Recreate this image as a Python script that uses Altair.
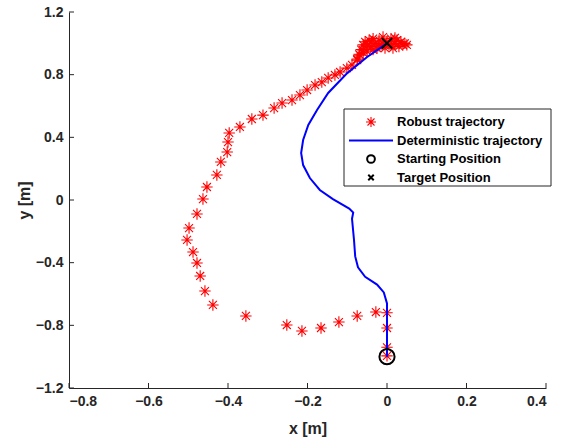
import altair as alt
import pandas as pd

# ---------------- data ----------------
robust_x = [0.0, 0.0, 0.0, 0.0, -0.028, -0.075, -0.121, -0.166, -0.214, -0.252,
            -0.355, -0.438, -0.458, -0.470, -0.478, -0.488, -0.503, -0.498, -0.478, -0.463,
            -0.453, -0.428, -0.418, -0.402, -0.400, -0.397, -0.370, -0.340, -0.312, -0.284,
            -0.264, -0.239, -0.219, -0.201, -0.181, -0.164, -0.148, -0.131, -0.118, -0.101,
            -0.088, -0.075, -0.068, -0.060, -0.050,
            -0.075, -0.070, -0.065, -0.060, -0.055, -0.050, -0.045, -0.040, -0.035, -0.030,
            -0.025, -0.020, -0.015, -0.010, -0.005, 0.000, 0.005, 0.010, 0.015, 0.020,
            0.025, 0.030, 0.035, 0.040, 0.045, 0.050, -0.050, -0.035, -0.010, 0.010,
            -0.060, -0.040, 0.020, -0.020]
robust_y = [-0.995, -0.940, -0.817, -0.720, -0.715, -0.740, -0.779, -0.817, -0.836, -0.798,
            -0.740, -0.670, -0.581, -0.485, -0.402, -0.332, -0.255, -0.179, -0.089, 0.006,
            0.083, 0.160, 0.243, 0.306, 0.370, 0.428, 0.466, 0.517, 0.542, 0.587,
            0.619, 0.638, 0.670, 0.702, 0.734, 0.753, 0.779, 0.798, 0.817, 0.842,
            0.862, 0.893, 0.925, 0.957, 0.989,
            0.900, 0.930, 0.960, 0.990, 1.010, 0.950, 1.020, 0.980, 1.030, 1.000,
            0.970, 1.020, 0.990, 1.040, 0.970, 1.010, 0.990, 1.030, 0.970, 1.000,
            1.020, 0.980, 1.010, 0.990, 1.000, 0.990, 0.980, 0.960, 1.000, 0.990,
            0.940, 1.010, 1.035, 0.985]

det_x = [0.0, 0.0, 0.0, -0.008, -0.025, -0.055, -0.073, -0.080, -0.083, -0.088,
         -0.085, -0.095, -0.136, -0.169, -0.194, -0.211, -0.216, -0.211, -0.198, -0.176,
         -0.148, -0.100, -0.050, 0.0]
det_y = [-1.0, -0.85, -0.66, -0.59, -0.54, -0.49, -0.43, -0.36, -0.255, -0.12,
         -0.08, -0.055, 0.006, 0.064, 0.140, 0.223, 0.300, 0.383, 0.479, 0.574,
         0.683, 0.810, 0.913, 1.0]

start_xy = (0.0, -1.0)
target_xy = (0.0, 1.0)

x_ticks = [-0.8, -0.6, -0.4, -0.2, 0.0, 0.2, 0.4]
y_ticks = [-1.2, -0.8, -0.4, 0.0, 0.4, 0.8, 1.2]

legend_labels = ["Robust trajectory", "Deterministic trajectory",
                 "Starting Position", "Target Position"]

# ---------------- styling ----------------
FONT = "Liberation Sans"
AX = "#262626"
W, H = 477, 376
ASTER = "M-1,0L1,0M0,-1L0,1M-0.7,-0.7L0.7,0.7M-0.7,0.7L0.7,-0.7"
XPATH = "M-1,-1L1,1M-1,1L1,-1"

xscale = alt.Scale(domain=[-0.8, 0.4], nice=False, zero=False)
yscale = alt.Scale(domain=[-1.2, 1.2], nice=False, zero=False)
lab_expr = "datum.value == 0 ? '0' : format(datum.value, '.1f')"
xaxis = alt.Axis(values=x_ticks, labelExpr=lab_expr, grid=False, ticks=False)
yaxis = alt.Axis(values=y_ticks, labelExpr=lab_expr, grid=False, ticks=False)


def X(f):
    return alt.X(f, scale=xscale, title="x [m]", axis=xaxis)


def Y(f):
    return alt.Y(f, scale=yscale, title="y [m]", axis=yaxis)


robust_df = pd.DataFrame({"x": robust_x, "y": robust_y})
det_df = pd.DataFrame({"x": det_x, "y": det_y, "i": list(range(len(det_x)))})
start_df = pd.DataFrame({"x": [start_xy[0]], "y": [start_xy[1]]})
target_df = pd.DataFrame({"x": [target_xy[0]], "y": [target_xy[1]]})
xt_df = pd.DataFrame({"x": x_ticks})
yt_df = pd.DataFrame({"y": y_ticks})
one = pd.DataFrame({"a": [0]})

robust = alt.Chart(robust_df).mark_point(
    shape=ASTER, filled=False, color="#FF0000", size=130, strokeWidth=1.1, opacity=1
).encode(x=X("x:Q"), y=Y("y:Q"))

det = alt.Chart(det_df).mark_line(color="#0000FF", strokeWidth=2).encode(
    x=X("x:Q"), y=Y("y:Q"), order=alt.Order("i:Q"))

start = alt.Chart(start_df).mark_point(
    shape="circle", filled=False, color="black", size=230, strokeWidth=2, opacity=1
).encode(x=X("x:Q"), y=Y("y:Q"))

target = alt.Chart(target_df).mark_point(
    shape=XPATH, filled=False, color="black", size=110, strokeWidth=2, opacity=1
).encode(x=X("x:Q"), y=Y("y:Q"))

xticks = alt.Chart(xt_df).mark_rule(color=AX, strokeWidth=1).encode(
    x=X("x:Q"), y=alt.value(H), y2=alt.value(H - 5))
yticks = alt.Chart(yt_df).mark_rule(color=AX, strokeWidth=1).encode(
    y=Y("y:Q"), x=alt.value(0), x2=alt.value(5))

# ---------------- legend (drawn manually) ----------------
LX0, LX1, LY0, LY1 = 275, 482, 97, 174
row_y = [110, 128.5, 147, 165.5]
sym_x = 302
txt_x = 328

leg_box = alt.Chart(one).mark_rect(fill="white", stroke=AX, strokeWidth=1).encode(
    x=alt.value(LX0), x2=alt.value(LX1), y=alt.value(LY0), y2=alt.value(LY1))
leg_layers = [leg_box]
leg_layers.append(alt.Chart(one).mark_point(
    shape=ASTER, filled=False, color="#FF0000", size=100, strokeWidth=1.1, opacity=1
).encode(x=alt.value(sym_x), y=alt.value(row_y[0])))
leg_layers.append(alt.Chart(one).mark_rule(color="#0000FF", strokeWidth=2).encode(
    x=alt.value(280), x2=alt.value(324), y=alt.value(row_y[1])))
leg_layers.append(alt.Chart(one).mark_point(
    shape="circle", filled=False, color="black", size=60, strokeWidth=2, opacity=1
).encode(x=alt.value(sym_x), y=alt.value(row_y[2])))
leg_layers.append(alt.Chart(one).mark_point(
    shape=XPATH, filled=False, color="black", size=30, strokeWidth=2, opacity=1
).encode(x=alt.value(sym_x), y=alt.value(row_y[3])))
for lbl, ry in zip(legend_labels, row_y):
    leg_layers.append(alt.Chart(one).mark_text(
        align="left", baseline="middle", font=FONT, fontWeight="bold", fontSize=13, color="black"
    ).encode(x=alt.value(txt_x), y=alt.value(ry), text=alt.value(lbl)))

chart = alt.layer(robust, det, start, target, xticks, yticks, *leg_layers).properties(
    width=W, height=H,
    padding={"left": 69, "top": 12, "right": 23, "bottom": 51},
    autosize=alt.AutoSizeParams(type="none"),
).configure_view(stroke=None).configure_axis(
    domainColor=AX, domainWidth=1,
    labelFont=FONT, labelFontWeight="bold", labelFontSize=14, labelColor=AX,
    titleFont=FONT, titleFontWeight="bold", titleFontSize=16, titleColor=AX,
).configure_axisX(labelPadding=6, titlePadding=12).configure_axisY(labelPadding=6, titlePadding=3)

chart.save("out.html", embed_options={"renderer": "svg", "actions": False})
